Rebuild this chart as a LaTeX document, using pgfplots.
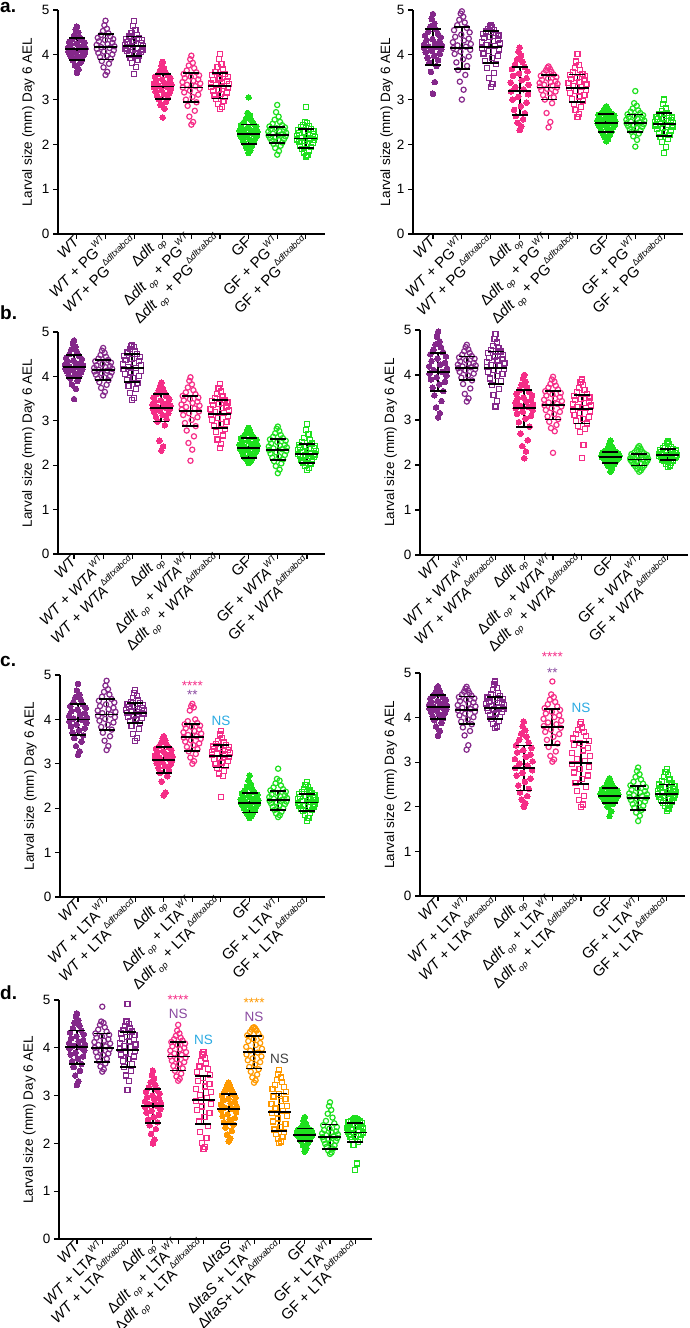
\documentclass[border=0pt]{standalone}
\usepackage{pgfplots}
\pgfplotsset{compat=1.18}
\usepackage{fontspec}
\setmainfont{Liberation Sans}
\usetikzlibrary{plotmarks}
\definecolor{purp}{HTML}{84288A}
\definecolor{pinkc}{HTML}{F52D87}
\definecolor{grn}{HTML}{1EE01E}
\definecolor{orng}{HTML}{FF9900}
\definecolor{nsblue}{HTML}{2AAAE2}
\definecolor{spurp}{HTML}{8A4AA0}
\newcommand{\lab}{\fontsize{13.5}{15}\selectfont}
\newcommand{\xlab}{\fontsize{15}{17}\selectfont}
\newcommand{\sps}[1]{\raisebox{0.5em}{\fontsize{9}{9}\selectfont #1}}
\newcommand{\WTs}{\sps{\textit{WT}}}
\newcommand{\Dx}{\sps{Δ\textit{dltxabcd}}}
\newcommand{\dlt}{Δ\textit{dlt}\kern2pt\raisebox{-0.3em}{\fontsize{9}{9}\selectfont\textit{op}}}
\newcommand{\lta}{Δ\textit{ltaS}}
\newcommand{\WT}{\textit{WT}}
\def\jitv{(\ifcase\coordindex\space 0\or 0.06\or -0.07\or 0.12\or -0.13\or 0.18\or -0.19\or 0.04\or 0.24\or -0.25\or -0.05\or 0.29\or -0.30\or 0.14\or -0.15\or 0.31\or -0.31\or 0.07\or 0.24\or -0.23\or -0.02\or 0.27\or -0.27\or 0.17\or -0.16\or 0.10\or -0.09\or 0.05\or -0.04\or 0\else 0\fi)}
\newcommand{\grp}[3]{\addplot[#2] table[header=false, row sep=\\, x expr={#1+\jitv}, y index=0]{#3};}
\newcommand{\sdbars}[1]{%
  \addplot[black, only marks, mark=-, mark size=11.5pt, mark options={line width=1.8pt},
    error bars/.cd, y dir=both, y explicit, error mark=none, error bar style={line width=1.8pt}]
    table[row sep=\\, x=x, y=m, y error=s]{#1};
  \addplot[black, only marks, mark=-, mark size=8pt, mark options={line width=1.8pt}]
    table[row sep=\\, x=x, y expr=\thisrow{m}+\thisrow{s}]{#1};
  \addplot[black, only marks, mark=-, mark size=8pt, mark options={line width=1.8pt}]
    table[row sep=\\, x=x, y expr=\thisrow{m}-\thisrow{s}]{#1};
}
\pgfplotsset{
  fc/.style={only marks, mark=*, mark size=2.8pt, color=#1, mark options={draw=#1, fill=#1, line width=0pt}},
  oc/.style={only marks, mark=o, mark size=2.6pt, color=#1, mark options={line width=1.2pt}},
  sq/.style={only marks, mark=square, mark size=2.5pt, color=#1, mark options={line width=1.2pt}},
  panel/.style={scale only axis, axis lines*=left, clip=false,
    ymin=0, ymax=5, ytick={0,1,2,3,4,5}, yticklabels={0,1,2,3,4,5},
    tick align=outside, major tick length=5pt, tick style={black, line width=1.1pt},
    axis line style={black, line width=1.3pt},
    x tick label style={rotate=45, anchor=east, inner sep=0pt, font=\xlab},
    y tick label style={font=\lab},
    ylabel={Larval size (mm) Day 6 AEL},
    ylabel style={font=\lab, at={(axis description cs:0,0.5)}, anchor=south, inner sep=0pt, yshift=23pt}},
}
\begin{document}
\begin{tikzpicture}
\useasboundingbox (0,0) rectangle (689pt,1328pt);
\node[anchor=base west, inner sep=0pt, font=\bfseries\fontsize{19}{20}\selectfont] at (0pt,1315pt) {a.};
\node[anchor=base west, inner sep=0pt, font=\bfseries\fontsize{19}{20}\selectfont] at (0pt,1008pt) {b.};
\node[anchor=base west, inner sep=0pt, font=\bfseries\fontsize{19}{20}\selectfont] at (0pt,661pt) {c.};
\node[anchor=base west, inner sep=0pt, font=\bfseries\fontsize{19}{20}\selectfont] at (0pt,328pt) {d.};
% ---------- a left
\begin{axis}[panel, at={(58pt,1094pt)}, anchor=south west, width=267pt, height=224pt, xmin=0.34, xmax=9.67,
  xtick={1,...,9}, xticklabels={\WT, \WT{} + PG\WTs, \WT+ PG\Dx, \dlt, \dlt{} + PG\WTs, \dlt{} + PG\Dx, GF, GF + PG\WTs, GF + PG\Dx}]
\grp{1}{fc=purp}{3.60\\3.68\\3.76\\3.82\\3.87\\3.90\\3.93\\3.96\\3.99\\4.01\\4.03\\4.05\\4.08\\4.10\\4.12\\4.14\\4.16\\4.18\\4.20\\4.22\\4.25\\4.27\\4.29\\4.32\\4.35\\4.39\\4.44\\4.50\\4.56\\4.63\\}
\grp{2}{oc=purp}{3.55\\3.62\\3.72\\3.80\\3.86\\3.91\\3.95\\3.98\\4.01\\4.04\\4.07\\4.10\\4.13\\4.15\\4.17\\4.19\\4.22\\4.24\\4.27\\4.30\\4.33\\4.35\\4.38\\4.41\\4.44\\4.48\\4.53\\4.58\\4.66\\4.76\\}
\grp{3}{sq=purp}{3.57\\3.72\\3.82\\3.88\\3.93\\3.97\\4.00\\4.03\\4.06\\4.08\\4.10\\4.12\\4.14\\4.16\\4.18\\4.20\\4.22\\4.24\\4.26\\4.28\\4.30\\4.33\\4.35\\4.38\\4.41\\4.44\\4.49\\4.55\\4.64\\4.76\\}
\grp{4}{fc=pinkc}{2.60\\2.80\\2.88\\2.95\\3.00\\3.04\\3.08\\3.12\\3.15\\3.18\\3.21\\3.24\\3.27\\3.29\\3.31\\3.33\\3.35\\3.37\\3.40\\3.42\\3.45\\3.48\\3.51\\3.54\\3.57\\3.61\\3.65\\3.70\\3.76\\3.84\\}
\grp{5}{oc=pinkc}{2.44\\2.50\\2.62\\2.75\\2.86\\2.94\\3.00\\3.06\\3.11\\3.16\\3.20\\3.24\\3.27\\3.30\\3.33\\3.36\\3.39\\3.42\\3.45\\3.48\\3.51\\3.54\\3.57\\3.61\\3.65\\3.70\\3.76\\3.82\\3.90\\3.98\\}
\grp{6}{sq=pinkc}{2.79\\2.84\\2.90\\2.96\\3.01\\3.05\\3.09\\3.13\\3.16\\3.19\\3.22\\3.25\\3.28\\3.30\\3.32\\3.34\\3.36\\3.38\\3.41\\3.44\\3.47\\3.50\\3.54\\3.58\\3.62\\3.67\\3.73\\3.80\\3.90\\4.02\\}
\grp{7}{fc=grn}{1.81\\1.86\\1.92\\1.97\\2.01\\2.05\\2.08\\2.11\\2.14\\2.16\\2.18\\2.20\\2.22\\2.24\\2.26\\2.28\\2.30\\2.32\\2.34\\2.36\\2.38\\2.40\\2.43\\2.46\\2.50\\2.54\\2.58\\2.64\\2.70\\3.05\\}
\grp{8}{oc=grn}{1.77\\1.85\\1.92\\1.97\\2.01\\2.04\\2.07\\2.10\\2.12\\2.14\\2.16\\2.18\\2.20\\2.22\\2.24\\2.26\\2.28\\2.30\\2.32\\2.34\\2.36\\2.38\\2.40\\2.43\\2.46\\2.50\\2.55\\2.62\\2.72\\2.88\\}
\grp{9}{sq=grn}{1.73\\1.77\\1.82\\1.86\\1.90\\1.94\\1.97\\2.00\\2.03\\2.05\\2.07\\2.09\\2.11\\2.13\\2.15\\2.17\\2.19\\2.21\\2.23\\2.25\\2.27\\2.29\\2.32\\2.35\\2.38\\2.41\\2.44\\2.47\\2.50\\2.83\\}
\sdbars{x m s\\1 4.13 0.245\\2 4.18 0.285\\3 4.19 0.22\\4 3.29 0.28\\5 3.27 0.32\\6 3.31 0.285\\7 2.23 0.215\\8 2.21 0.185\\9 2.13 0.21\\}
\end{axis}
% ---------- a right
\begin{axis}[panel, at={(413pt,1094pt)}, anchor=south west, width=270pt, height=224pt, xmin=0.31, xmax=9.65,
  ylabel style={yshift=-3pt},
  xtick={1,...,9}, xticklabels={\WT, \WT{} + PG\WTs, \WT{} + PG\Dx, \dlt, \dlt{} + PG\WTs, \dlt{} + PG\Dx, GF, GF + PG\WTs, GF + PG\Dx}]
\grp{1}{fc=purp}{3.13\\3.39\\3.62\\3.75\\3.82\\3.88\\3.93\\3.98\\4.02\\4.06\\4.09\\4.12\\4.15\\4.17\\4.19\\4.21\\4.23\\4.26\\4.29\\4.32\\4.35\\4.39\\4.43\\4.47\\4.52\\4.57\\4.63\\4.70\\4.80\\4.91\\}
\grp{2}{oc=purp}{3.00\\3.22\\3.40\\3.55\\3.66\\3.75\\3.83\\3.90\\3.96\\4.02\\4.07\\4.11\\4.15\\4.18\\4.21\\4.24\\4.28\\4.32\\4.36\\4.40\\4.45\\4.50\\4.55\\4.60\\4.66\\4.72\\4.78\\4.85\\4.92\\4.97\\}
\grp{3}{sq=purp}{3.28\\3.35\\3.48\\3.60\\3.70\\3.79\\3.86\\3.92\\3.98\\4.03\\4.08\\4.12\\4.16\\4.19\\4.22\\4.25\\4.28\\4.31\\4.34\\4.37\\4.40\\4.43\\4.46\\4.49\\4.52\\4.55\\4.58\\4.61\\4.64\\4.67\\}
\grp{4}{fc=pinkc}{2.32\\2.40\\2.48\\2.56\\2.63\\2.70\\2.77\\2.85\\2.93\\3.00\\3.06\\3.12\\3.18\\3.23\\3.28\\3.33\\3.38\\3.43\\3.48\\3.53\\3.58\\3.63\\3.68\\3.73\\3.78\\3.84\\3.90\\3.98\\4.07\\4.16\\}
\grp{5}{oc=pinkc}{2.38\\2.50\\2.70\\2.92\\3.00\\3.05\\3.10\\3.14\\3.18\\3.21\\3.24\\3.27\\3.29\\3.31\\3.33\\3.35\\3.37\\3.39\\3.41\\3.44\\3.47\\3.50\\3.53\\3.56\\3.59\\3.62\\3.65\\3.68\\3.71\\3.74\\}
\grp{6}{sq=pinkc}{2.61\\2.68\\2.76\\2.84\\2.91\\2.97\\3.02\\3.07\\3.11\\3.15\\3.19\\3.22\\3.25\\3.28\\3.31\\3.34\\3.37\\3.40\\3.43\\3.46\\3.49\\3.52\\3.55\\3.58\\3.62\\3.66\\3.71\\3.77\\3.85\\4.02\\}
\grp{7}{fc=grn}{2.07\\2.12\\2.17\\2.21\\2.25\\2.29\\2.32\\2.35\\2.38\\2.40\\2.42\\2.44\\2.46\\2.48\\2.50\\2.52\\2.54\\2.56\\2.58\\2.60\\2.62\\2.64\\2.66\\2.68\\2.70\\2.73\\2.76\\2.79\\2.82\\2.85\\}
\grp{8}{oc=grn}{1.95\\2.10\\2.18\\2.24\\2.28\\2.31\\2.34\\2.37\\2.39\\2.41\\2.43\\2.45\\2.47\\2.49\\2.51\\2.53\\2.55\\2.57\\2.59\\2.61\\2.63\\2.65\\2.67\\2.70\\2.73\\2.76\\2.80\\2.86\\2.92\\3.19\\}
\grp{9}{sq=grn}{1.81\\1.95\\2.05\\2.12\\2.17\\2.21\\2.25\\2.28\\2.31\\2.34\\2.37\\2.40\\2.42\\2.44\\2.46\\2.48\\2.50\\2.52\\2.54\\2.56\\2.58\\2.60\\2.62\\2.64\\2.67\\2.70\\2.74\\2.80\\2.90\\3.00\\}
\sdbars{x m s\\1 4.18 0.40\\2 4.15 0.47\\3 4.17 0.36\\4 3.19 0.53\\5 3.27 0.27\\6 3.25 0.31\\7 2.48 0.20\\8 2.47 0.195\\9 2.45 0.255\\}
\end{axis}
% ---------- b left
\begin{axis}[panel, at={(58pt,774pt)}, anchor=south west, width=267pt, height=222pt, xmin=0.45, xmax=9.62,
  xtick={1,...,9}, xticklabels={\WT, \WT{} + \textit{WTA}\WTs, \WT{} + \textit{WTA}\Dx, \dlt, \dlt{} + \textit{WTA}\WTs, \dlt{} + \textit{WTA}\Dx, GF, GF + \textit{WTA}\WTs, GF + \textit{WTA}\Dx}]
\grp{1}{fc=purp}{3.49\\3.72\\3.82\\3.90\\3.95\\3.99\\4.03\\4.06\\4.09\\4.12\\4.14\\4.16\\4.18\\4.20\\4.22\\4.24\\4.26\\4.28\\4.30\\4.33\\4.36\\4.39\\4.42\\4.46\\4.50\\4.55\\4.61\\4.67\\4.74\\4.81\\}
\grp{2}{oc=purp}{3.57\\3.65\\3.74\\3.81\\3.87\\3.91\\3.95\\3.98\\4.01\\4.04\\4.07\\4.09\\4.11\\4.13\\4.15\\4.17\\4.19\\4.21\\4.23\\4.25\\4.28\\4.31\\4.34\\4.37\\4.40\\4.44\\4.48\\4.53\\4.58\\4.64\\}
\grp{3}{sq=purp}{3.46\\3.52\\3.62\\3.71\\3.79\\3.86\\3.92\\3.97\\4.01\\4.05\\4.09\\4.13\\4.16\\4.19\\4.22\\4.25\\4.28\\4.31\\4.34\\4.37\\4.40\\4.43\\4.46\\4.50\\4.54\\4.58\\4.62\\4.66\\4.69\\4.71\\}
\grp{4}{fc=pinkc}{2.33\\2.42\\2.55\\2.90\\2.98\\3.04\\3.09\\3.13\\3.17\\3.20\\3.23\\3.26\\3.28\\3.30\\3.32\\3.34\\3.36\\3.38\\3.40\\3.43\\3.46\\3.49\\3.52\\3.56\\3.60\\3.64\\3.68\\3.73\\3.79\\3.86\\}
\grp{5}{oc=pinkc}{2.10\\2.35\\2.50\\2.65\\2.78\\2.88\\2.95\\3.02\\3.08\\3.13\\3.17\\3.21\\3.25\\3.28\\3.31\\3.34\\3.37\\3.40\\3.43\\3.46\\3.49\\3.52\\3.56\\3.60\\3.64\\3.69\\3.75\\3.82\\3.90\\3.98\\}
\grp{6}{sq=pinkc}{2.39\\2.48\\2.58\\2.67\\2.75\\2.82\\2.88\\2.93\\2.98\\3.02\\3.06\\3.10\\3.14\\3.17\\3.20\\3.23\\3.26\\3.29\\3.32\\3.35\\3.38\\3.41\\3.44\\3.47\\3.51\\3.55\\3.60\\3.66\\3.74\\3.83\\}
\grp{7}{fc=grn}{2.05\\2.08\\2.12\\2.15\\2.18\\2.21\\2.24\\2.27\\2.30\\2.32\\2.34\\2.36\\2.38\\2.40\\2.42\\2.44\\2.46\\2.48\\2.50\\2.52\\2.54\\2.57\\2.60\\2.63\\2.66\\2.69\\2.72\\2.76\\2.80\\2.84\\}
\grp{8}{oc=grn}{1.82\\1.90\\1.98\\2.04\\2.09\\2.13\\2.17\\2.20\\2.23\\2.26\\2.29\\2.32\\2.34\\2.36\\2.38\\2.40\\2.42\\2.44\\2.46\\2.49\\2.52\\2.55\\2.58\\2.61\\2.64\\2.68\\2.72\\2.77\\2.82\\2.87\\}
\grp{9}{sq=grn}{1.90\\1.94\\1.98\\2.02\\2.06\\2.09\\2.12\\2.15\\2.18\\2.20\\2.22\\2.24\\2.26\\2.28\\2.30\\2.32\\2.34\\2.36\\2.38\\2.40\\2.42\\2.44\\2.46\\2.49\\2.52\\2.56\\2.62\\2.70\\2.80\\2.93\\}
\sdbars{x m s\\1 4.22 0.265\\2 4.14 0.225\\3 4.19 0.31\\4 3.29 0.305\\5 3.22 0.345\\6 3.15 0.315\\7 2.39 0.225\\8 2.35 0.235\\9 2.26 0.215\\}
\end{axis}
% ---------- b right
\begin{axis}[panel, at={(420pt,773pt)}, anchor=south west, width=268pt, height=225pt, xmin=0.37, xmax=9.7,
  xtick={1,...,9}, xticklabels={\WT, \WT{} + \textit{WTA}\WTs, \WT{} + \textit{WTA}\Dx, \dlt, \dlt{} + \textit{WTA}\WTs, \dlt{} + \textit{WTA}\Dx, GF, GF + \textit{WTA}\WTs, GF + \textit{WTA}\Dx}]
\grp{1}{fc=purp}{3.06\\3.15\\3.28\\3.42\\3.55\\3.64\\3.72\\3.79\\3.85\\3.90\\3.95\\3.99\\4.03\\4.07\\4.11\\4.15\\4.19\\4.23\\4.27\\4.31\\4.36\\4.41\\4.46\\4.51\\4.56\\4.62\\4.68\\4.75\\4.85\\4.96\\}
\grp{2}{oc=purp}{3.41\\3.48\\3.58\\3.70\\3.80\\3.88\\3.94\\3.99\\4.03\\4.07\\4.10\\4.13\\4.15\\4.17\\4.19\\4.21\\4.23\\4.25\\4.27\\4.30\\4.33\\4.36\\4.39\\4.42\\4.45\\4.49\\4.53\\4.57\\4.62\\4.67\\}
\grp{3}{sq=purp}{3.30\\3.42\\3.56\\3.68\\3.78\\3.86\\3.92\\3.98\\4.03\\4.07\\4.11\\4.14\\4.17\\4.20\\4.23\\4.26\\4.29\\4.32\\4.35\\4.38\\4.41\\4.44\\4.48\\4.52\\4.56\\4.60\\4.65\\4.72\\4.80\\4.91\\}
\grp{4}{fc=pinkc}{2.15\\2.30\\2.42\\2.55\\2.70\\2.85\\2.95\\3.03\\3.09\\3.14\\3.18\\3.22\\3.26\\3.29\\3.32\\3.35\\3.38\\3.41\\3.44\\3.47\\3.50\\3.54\\3.58\\3.62\\3.67\\3.72\\3.78\\3.85\\3.92\\4.00\\}
\grp{5}{oc=pinkc}{2.27\\2.75\\2.82\\2.89\\2.96\\3.02\\3.08\\3.13\\3.18\\3.22\\3.26\\3.30\\3.33\\3.36\\3.39\\3.42\\3.45\\3.48\\3.51\\3.54\\3.57\\3.60\\3.64\\3.68\\3.72\\3.76\\3.80\\3.85\\3.90\\3.96\\}
\grp{6}{sq=pinkc}{2.15\\2.45\\2.74\\2.80\\2.86\\2.92\\2.97\\3.02\\3.07\\3.11\\3.15\\3.19\\3.23\\3.26\\3.29\\3.32\\3.35\\3.38\\3.41\\3.44\\3.47\\3.50\\3.54\\3.58\\3.62\\3.66\\3.71\\3.77\\3.84\\3.90\\}
\grp{7}{fc=grn}{1.85\\1.92\\1.97\\2.01\\2.04\\2.07\\2.09\\2.11\\2.13\\2.14\\2.15\\2.16\\2.17\\2.18\\2.19\\2.20\\2.21\\2.22\\2.23\\2.24\\2.25\\2.26\\2.28\\2.30\\2.32\\2.34\\2.37\\2.41\\2.47\\2.54\\}
\grp{8}{oc=grn}{1.85\\1.88\\1.91\\1.94\\1.97\\1.99\\2.01\\2.03\\2.05\\2.07\\2.09\\2.10\\2.11\\2.12\\2.13\\2.14\\2.15\\2.16\\2.17\\2.18\\2.20\\2.22\\2.24\\2.26\\2.28\\2.30\\2.33\\2.36\\2.39\\2.42\\}
\grp{9}{sq=grn}{1.96\\1.99\\2.02\\2.05\\2.08\\2.10\\2.12\\2.14\\2.16\\2.17\\2.18\\2.19\\2.20\\2.21\\2.22\\2.23\\2.24\\2.25\\2.26\\2.28\\2.30\\2.32\\2.34\\2.36\\2.38\\2.40\\2.43\\2.46\\2.49\\2.52\\}
\sdbars{x m s\\1 4.07 0.425\\2 4.15 0.26\\3 4.16 0.36\\4 3.26 0.41\\5 3.33 0.32\\6 3.24 0.32\\7 2.17 0.125\\8 2.12 0.13\\9 2.23 0.12\\}
\end{axis}
% ---------- c left
\begin{axis}[panel, at={(60pt,431pt)}, anchor=south west, width=265pt, height=222pt, xmin=0.37, xmax=9.64,
  xtick={1,...,9}, xticklabels={\WT, \WT{} + LTA\WTs, \WT{} + LTA\Dx, \dlt, \dlt{} + LTA\WTs, \dlt{} + LTA\Dx, GF, GF + LTA\WTs, GF + LTA\Dx}]
\grp{1}{fc=purp}{3.20\\3.28\\3.40\\3.50\\3.58\\3.64\\3.70\\3.75\\3.80\\3.84\\3.88\\3.92\\3.96\\3.99\\4.02\\4.05\\4.08\\4.11\\4.14\\4.18\\4.22\\4.26\\4.30\\4.34\\4.39\\4.44\\4.50\\4.56\\4.65\\4.80\\}
\grp{2}{oc=purp}{3.31\\3.40\\3.52\\3.62\\3.70\\3.77\\3.83\\3.88\\3.93\\3.97\\4.01\\4.05\\4.08\\4.11\\4.14\\4.17\\4.20\\4.23\\4.26\\4.30\\4.34\\4.38\\4.42\\4.46\\4.51\\4.56\\4.62\\4.68\\4.76\\4.87\\}
\grp{3}{sq=purp}{3.52\\3.58\\3.68\\3.78\\3.86\\3.92\\3.96\\4.00\\4.03\\4.06\\4.09\\4.12\\4.14\\4.16\\4.18\\4.20\\4.22\\4.24\\4.26\\4.28\\4.30\\4.32\\4.34\\4.37\\4.40\\4.44\\4.48\\4.53\\4.59\\4.66\\}
\grp{4}{fc=pinkc}{2.29\\2.35\\2.60\\2.72\\2.80\\2.86\\2.91\\2.95\\2.98\\3.01\\3.04\\3.07\\3.10\\3.12\\3.14\\3.16\\3.18\\3.20\\3.22\\3.25\\3.28\\3.31\\3.34\\3.37\\3.40\\3.44\\3.48\\3.52\\3.57\\3.62\\}
\grp{5}{oc=pinkc}{3.00\\3.06\\3.14\\3.22\\3.28\\3.33\\3.38\\3.42\\3.46\\3.50\\3.53\\3.56\\3.59\\3.62\\3.65\\3.68\\3.71\\3.74\\3.77\\3.80\\3.83\\3.86\\3.89\\3.92\\3.96\\4.00\\4.20\\4.27\\4.30\\4.35\\}
\grp{6}{sq=pinkc}{2.26\\2.72\\2.78\\2.84\\2.90\\2.95\\2.99\\3.03\\3.07\\3.10\\3.13\\3.16\\3.19\\3.21\\3.23\\3.25\\3.27\\3.29\\3.31\\3.33\\3.35\\3.37\\3.39\\3.42\\3.45\\3.48\\3.52\\3.58\\3.66\\3.74\\}
\grp{7}{fc=grn}{1.78\\1.82\\1.86\\1.90\\1.93\\1.96\\1.99\\2.02\\2.04\\2.06\\2.08\\2.10\\2.12\\2.14\\2.16\\2.18\\2.20\\2.22\\2.24\\2.26\\2.28\\2.30\\2.33\\2.36\\2.39\\2.43\\2.48\\2.54\\2.62\\2.74\\}
\grp{8}{oc=grn}{1.80\\1.84\\1.88\\1.92\\1.96\\2.00\\2.03\\2.06\\2.09\\2.11\\2.13\\2.15\\2.17\\2.19\\2.21\\2.23\\2.25\\2.27\\2.29\\2.31\\2.34\\2.37\\2.40\\2.43\\2.47\\2.51\\2.56\\2.62\\2.66\\2.89\\}
\grp{9}{sq=grn}{1.71\\1.78\\1.84\\1.89\\1.93\\1.96\\1.99\\2.02\\2.04\\2.06\\2.08\\2.10\\2.12\\2.14\\2.16\\2.18\\2.20\\2.22\\2.24\\2.26\\2.28\\2.30\\2.32\\2.34\\2.37\\2.40\\2.44\\2.48\\2.53\\2.59\\}
\sdbars{x m s\\1 4.00 0.355\\2 4.11 0.35\\3 4.14 0.225\\4 3.08 0.29\\5 3.60 0.305\\6 3.17 0.255\\7 2.12 0.215\\8 2.18 0.215\\9 2.13 0.185\\}
\node[pinkc, font=\lab] at (axis cs:5,4.75) {****};
\node[spurp, font=\lab] at (axis cs:5,4.55) {**};
\node[nsblue, font=\lab] at (axis cs:6,3.96) {NS};
\end{axis}
% ---------- c right
\begin{axis}[panel, at={(420pt,432pt)}, anchor=south west, width=265pt, height=223pt, xmin=0.37, xmax=9.64,
  xtick={1,...,9}, xticklabels={\WT, \WT{} + LTA\WTs, \WT{} + LTA\Dx, \dlt, \dlt{} + LTA\WTs, \dlt{} + LTA\Dx, GF, GF + LTA\WTs, GF + LTA\Dx}]
\grp{1}{fc=purp}{3.59\\3.70\\3.80\\3.88\\3.94\\3.99\\4.03\\4.07\\4.10\\4.13\\4.16\\4.19\\4.21\\4.23\\4.25\\4.27\\4.29\\4.31\\4.33\\4.35\\4.37\\4.40\\4.43\\4.46\\4.49\\4.52\\4.56\\4.60\\4.65\\4.70\\}
\grp{2}{oc=purp}{3.28\\3.38\\3.60\\3.70\\3.78\\3.85\\3.91\\3.96\\4.01\\4.05\\4.09\\4.13\\4.16\\4.19\\4.22\\4.25\\4.28\\4.31\\4.34\\4.37\\4.40\\4.43\\4.46\\4.49\\4.52\\4.55\\4.58\\4.61\\4.65\\4.69\\}
\grp{3}{sq=purp}{3.76\\3.80\\3.86\\3.92\\3.97\\4.01\\4.05\\4.09\\4.12\\4.15\\4.18\\4.20\\4.22\\4.24\\4.26\\4.28\\4.30\\4.32\\4.34\\4.36\\4.39\\4.42\\4.45\\4.48\\4.52\\4.56\\4.61\\4.67\\4.74\\4.81\\}
\grp{4}{fc=pinkc}{2.00\\2.08\\2.16\\2.24\\2.32\\2.40\\2.48\\2.56\\2.63\\2.70\\2.76\\2.82\\2.87\\2.92\\2.97\\3.02\\3.07\\3.12\\3.17\\3.22\\3.27\\3.32\\3.38\\3.44\\3.50\\3.57\\3.64\\3.72\\3.81\\3.91\\}
\grp{5}{oc=pinkc}{3.01\\3.06\\3.14\\3.24\\3.34\\3.42\\3.50\\3.57\\3.63\\3.68\\3.73\\3.77\\3.81\\3.85\\3.89\\3.93\\3.97\\4.01\\4.05\\4.09\\4.13\\4.17\\4.21\\4.25\\4.30\\4.35\\4.40\\4.46\\4.52\\4.81\\}
\grp{6}{sq=pinkc}{2.00\\2.05\\2.15\\2.25\\2.35\\2.45\\2.54\\2.62\\2.70\\2.77\\2.84\\2.90\\2.96\\3.02\\3.08\\3.14\\3.20\\3.26\\3.32\\3.38\\3.43\\3.48\\3.53\\3.58\\3.63\\3.68\\3.73\\3.78\\3.85\\3.91\\}
\grp{7}{fc=grn}{1.79\\1.90\\2.00\\2.06\\2.10\\2.13\\2.16\\2.18\\2.20\\2.22\\2.23\\2.24\\2.25\\2.26\\2.27\\2.28\\2.29\\2.30\\2.31\\2.33\\2.35\\2.37\\2.39\\2.41\\2.44\\2.47\\2.51\\2.55\\2.60\\2.64\\}
\grp{8}{oc=grn}{1.68\\1.80\\1.87\\1.93\\1.98\\2.02\\2.06\\2.09\\2.12\\2.15\\2.18\\2.20\\2.22\\2.24\\2.26\\2.28\\2.30\\2.32\\2.35\\2.38\\2.41\\2.44\\2.48\\2.52\\2.56\\2.61\\2.67\\2.73\\2.80\\2.88\\}
\grp{9}{sq=grn}{1.91\\1.96\\2.01\\2.05\\2.09\\2.12\\2.15\\2.18\\2.20\\2.22\\2.24\\2.26\\2.28\\2.30\\2.32\\2.34\\2.36\\2.38\\2.40\\2.42\\2.44\\2.47\\2.50\\2.53\\2.57\\2.61\\2.66\\2.72\\2.78\\2.84\\}
\sdbars{x m s\\1 4.23 0.27\\2 4.17 0.305\\3 4.22 0.25\\4 2.87 0.505\\5 3.79 0.405\\6 2.98 0.475\\7 2.25 0.165\\8 2.19 0.27\\9 2.29 0.21\\}
\node[pinkc, font=\lab] at (axis cs:5,5.36) {****};
\node[spurp, font=\lab] at (axis cs:5,5.0) {**};
\node[nsblue, font=\lab] at (axis cs:6,4.21) {NS};
\end{axis}
% ---------- d
\begin{axis}[panel, at={(59pt,89pt)}, anchor=south west, width=313pt, height=239pt, xmin=0.29, xmax=12.66,
  xtick={1,...,12}, xticklabels={\WT, \WT{} + LTA\WTs, \WT{} + LTA\Dx, \dlt, \dlt{} + LTA\WTs, \dlt{} + LTA\Dx, \lta, \lta{} + LTA\WTs, \lta+ LTA\Dx, GF, GF + LTA\WTs, GF + LTA\Dx}]
\grp{1}{fc=purp}{3.22\\3.30\\3.42\\3.52\\3.60\\3.66\\3.72\\3.77\\3.82\\3.86\\3.90\\3.94\\3.98\\4.01\\4.04\\4.07\\4.10\\4.13\\4.16\\4.20\\4.24\\4.28\\4.32\\4.36\\4.41\\4.46\\4.52\\4.58\\4.65\\4.72\\}
\grp{2}{oc=purp}{3.50\\3.55\\3.61\\3.67\\3.72\\3.77\\3.81\\3.85\\3.88\\3.91\\3.94\\3.97\\4.00\\4.03\\4.06\\4.09\\4.12\\4.15\\4.18\\4.21\\4.24\\4.27\\4.30\\4.34\\4.38\\4.43\\4.48\\4.52\\4.55\\4.86\\}
\grp{3}{sq=purp}{3.11\\3.30\\3.42\\3.52\\3.60\\3.66\\3.72\\3.77\\3.82\\3.86\\3.90\\3.94\\3.98\\4.01\\4.04\\4.07\\4.10\\4.13\\4.16\\4.19\\4.22\\4.26\\4.30\\4.34\\4.38\\4.42\\4.46\\4.50\\4.55\\4.92\\}
\grp{4}{fc=pinkc}{2.00\\2.08\\2.20\\2.30\\2.38\\2.44\\2.50\\2.55\\2.60\\2.64\\2.68\\2.72\\2.76\\2.79\\2.82\\2.85\\2.88\\2.91\\2.94\\2.97\\3.00\\3.04\\3.08\\3.12\\3.17\\3.22\\3.28\\3.35\\3.43\\3.52\\}
\grp{5}{oc=pinkc}{3.31\\3.35\\3.40\\3.46\\3.52\\3.57\\3.62\\3.66\\3.70\\3.73\\3.76\\3.79\\3.82\\3.85\\3.88\\3.91\\3.94\\3.97\\4.00\\4.03\\4.06\\4.09\\4.12\\4.15\\4.18\\4.21\\4.25\\4.30\\4.36\\4.48\\}
\grp{6}{sq=pinkc}{1.88\\1.92\\2.00\\2.12\\2.24\\2.36\\2.46\\2.55\\2.63\\2.70\\2.77\\2.83\\2.89\\2.95\\3.01\\3.07\\3.13\\3.19\\3.25\\3.31\\3.37\\3.43\\3.49\\3.55\\3.61\\3.67\\3.73\\3.79\\3.86\\3.92\\}
\grp{7}{fc=orng}{2.04\\2.10\\2.18\\2.26\\2.33\\2.39\\2.44\\2.49\\2.53\\2.57\\2.61\\2.65\\2.69\\2.72\\2.75\\2.78\\2.81\\2.84\\2.87\\2.90\\2.93\\2.96\\3.00\\3.04\\3.08\\3.12\\3.16\\3.20\\3.24\\3.27\\}
\grp{8}{oc=orng}{3.27\\3.32\\3.38\\3.44\\3.50\\3.55\\3.60\\3.65\\3.70\\3.74\\3.78\\3.82\\3.86\\3.90\\3.94\\3.98\\4.02\\4.06\\4.10\\4.14\\4.18\\4.22\\4.26\\4.30\\4.33\\4.36\\4.38\\4.40\\4.42\\4.43\\}
\grp{9}{sq=orng}{2.00\\2.04\\2.09\\2.14\\2.19\\2.24\\2.29\\2.34\\2.40\\2.46\\2.52\\2.58\\2.63\\2.68\\2.73\\2.78\\2.83\\2.88\\2.93\\2.98\\3.03\\3.08\\3.13\\3.18\\3.23\\3.28\\3.33\\3.38\\3.45\\3.54\\}
\grp{10}{fc=grn}{1.83\\1.90\\1.96\\2.00\\2.04\\2.07\\2.09\\2.11\\2.13\\2.15\\2.16\\2.17\\2.18\\2.19\\2.20\\2.21\\2.22\\2.23\\2.24\\2.25\\2.26\\2.27\\2.28\\2.30\\2.32\\2.34\\2.37\\2.41\\2.47\\2.55\\}
\grp{11}{oc=grn}{1.78\\1.81\\1.85\\1.89\\1.93\\1.96\\1.99\\2.02\\2.05\\2.07\\2.09\\2.11\\2.13\\2.15\\2.17\\2.19\\2.21\\2.23\\2.25\\2.28\\2.31\\2.34\\2.38\\2.42\\2.47\\2.54\\2.62\\2.70\\2.78\\2.86\\}
\grp{12}{sq=grn}{1.45\\1.58\\1.97\\2.03\\2.07\\2.10\\2.13\\2.15\\2.17\\2.19\\2.21\\2.23\\2.25\\2.27\\2.29\\2.31\\2.33\\2.35\\2.37\\2.39\\2.41\\2.43\\2.45\\2.46\\2.47\\2.48\\2.49\\2.50\\2.51\\2.53\\}
\sdbars{x m s\\1 4.01 0.35\\2 4.00 0.30\\3 3.96 0.365\\4 2.78 0.355\\5 3.82 0.295\\6 2.91 0.505\\7 2.72 0.32\\8 3.91 0.345\\9 2.65 0.395\\10 2.18 0.13\\11 2.14 0.255\\12 2.23 0.195\\}
\node[pinkc, font=\lab] at (axis cs:5,5.0) {****};
\node[spurp, font=\lab] at (axis cs:5,4.71) {NS};
\node[nsblue, font=\lab] at (axis cs:6,4.16) {NS};
\node[orng, font=\lab] at (axis cs:8,4.94) {****};
\node[spurp, font=\lab] at (axis cs:8,4.64) {NS};
\node[black!75, font=\lab] at (axis cs:9,3.77) {NS};
\end{axis}
\end{tikzpicture}
\end{document}
